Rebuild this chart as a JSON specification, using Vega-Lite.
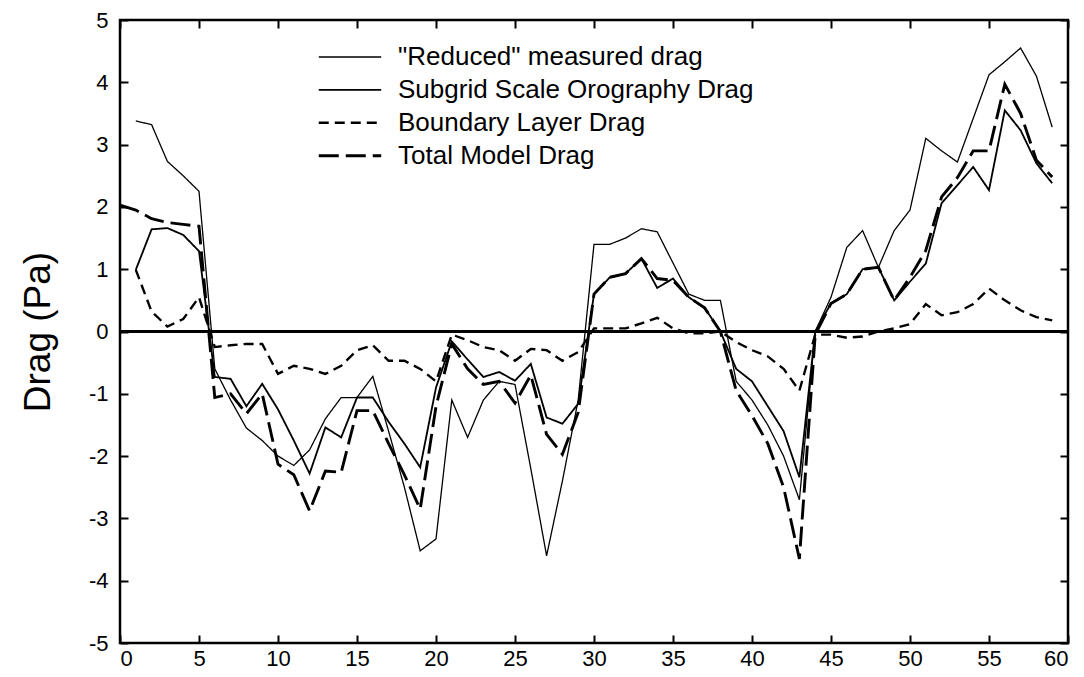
{
"$schema": "https://vega.github.io/schema/vega-lite/v6.json",
"width": 948, "height": 623,
"autosize": {"type": "none"},
"padding": {"left": 120, "top": 20, "right": 16, "bottom": 34},
"background": "white",
"config": {"view": {"stroke": "black", "strokeWidth": 2.5}, "font": "Liberation Sans"},
"datasets": {"d": [
{"s":"R","x":1,"y":3.38},{"s":"R","x":2,"y":3.32},{"s":"R","x":3,"y":2.73},{"s":"R","x":4,"y":2.5},{"s":"R","x":5,"y":2.25},{"s":"R","x":6,"y":-0.6},{"s":"R","x":7,"y":-1.1},{"s":"R","x":8,"y":-1.55},{"s":"R","x":9,"y":-1.75},{"s":"R","x":10,"y":-2.0},{"s":"R","x":11,"y":-2.15},{"s":"R","x":12,"y":-1.9},{"s":"R","x":13,"y":-1.4},{"s":"R","x":14,"y":-1.06},{"s":"R","x":15,"y":-1.06},{"s":"R","x":16,"y":-0.72},{"s":"R","x":17,"y":-1.6},{"s":"R","x":18,"y":-2.5},{"s":"R","x":19,"y":-3.52},{"s":"R","x":20,"y":-3.33},{"s":"R","x":21,"y":-1.1},{"s":"R","x":22,"y":-1.7},{"s":"R","x":23,"y":-1.1},{"s":"R","x":24,"y":-0.8},{"s":"R","x":25,"y":-0.85},{"s":"R","x":26,"y":-2.2},{"s":"R","x":27,"y":-3.6},{"s":"R","x":28,"y":-2.4},{"s":"R","x":29,"y":-1.1},{"s":"R","x":30,"y":1.4},{"s":"R","x":31,"y":1.4},{"s":"R","x":32,"y":1.5},{"s":"R","x":33,"y":1.65},{"s":"R","x":34,"y":1.6},{"s":"R","x":35,"y":1.1},{"s":"R","x":36,"y":0.6},{"s":"R","x":37,"y":0.5},{"s":"R","x":38,"y":0.5},{"s":"R","x":39,"y":-0.8},{"s":"R","x":40,"y":-1.1},{"s":"R","x":41,"y":-1.5},{"s":"R","x":42,"y":-2.0},{"s":"R","x":43,"y":-2.7},{"s":"R","x":44,"y":0.0},{"s":"R","x":45,"y":0.55},{"s":"R","x":46,"y":1.35},{"s":"R","x":47,"y":1.62},{"s":"R","x":48,"y":1.03},{"s":"R","x":49,"y":1.62},{"s":"R","x":50,"y":1.95},{"s":"R","x":51,"y":3.1},{"s":"R","x":52,"y":2.9},{"s":"R","x":53,"y":2.72},{"s":"R","x":54,"y":3.42},{"s":"R","x":55,"y":4.12},{"s":"R","x":56,"y":4.33},{"s":"R","x":57,"y":4.55},{"s":"R","x":58,"y":4.1},{"s":"R","x":59,"y":3.28},
{"s":"S","x":1,"y":0.99},{"s":"S","x":2,"y":1.64},{"s":"S","x":3,"y":1.66},{"s":"S","x":4,"y":1.55},{"s":"S","x":5,"y":1.29},{"s":"S","x":6,"y":-0.73},{"s":"S","x":7,"y":-0.76},{"s":"S","x":8,"y":-1.2},{"s":"S","x":9,"y":-0.84},{"s":"S","x":10,"y":-1.25},{"s":"S","x":11,"y":-1.75},{"s":"S","x":12,"y":-2.28},{"s":"S","x":13,"y":-1.54},{"s":"S","x":14,"y":-1.7},{"s":"S","x":15,"y":-1.06},{"s":"S","x":16,"y":-1.06},{"s":"S","x":17,"y":-1.45},{"s":"S","x":18,"y":-1.8},{"s":"S","x":19,"y":-2.18},{"s":"S","x":20,"y":-0.9},{"s":"S","x":21,"y":-0.16},{"s":"S","x":22,"y":-0.45},{"s":"S","x":23,"y":-0.73},{"s":"S","x":24,"y":-0.65},{"s":"S","x":25,"y":-0.79},{"s":"S","x":26,"y":-0.52},{"s":"S","x":27,"y":-1.38},{"s":"S","x":28,"y":-1.48},{"s":"S","x":29,"y":-1.16},{"s":"S","x":30,"y":0.6},{"s":"S","x":31,"y":0.87},{"s":"S","x":32,"y":0.93},{"s":"S","x":33,"y":1.17},{"s":"S","x":34,"y":0.7},{"s":"S","x":35,"y":0.85},{"s":"S","x":36,"y":0.55},{"s":"S","x":37,"y":0.38},{"s":"S","x":38,"y":0.0},{"s":"S","x":39,"y":-0.6},{"s":"S","x":40,"y":-0.8},{"s":"S","x":41,"y":-1.2},{"s":"S","x":42,"y":-1.6},{"s":"S","x":43,"y":-2.34},{"s":"S","x":44,"y":0.0},{"s":"S","x":45,"y":0.45},{"s":"S","x":46,"y":0.6},{"s":"S","x":47,"y":1.0},{"s":"S","x":48,"y":1.03},{"s":"S","x":49,"y":0.5},{"s":"S","x":50,"y":0.8},{"s":"S","x":51,"y":1.09},{"s":"S","x":52,"y":2.06},{"s":"S","x":53,"y":2.35},{"s":"S","x":54,"y":2.64},{"s":"S","x":55,"y":2.27},{"s":"S","x":56,"y":3.55},{"s":"S","x":57,"y":3.23},{"s":"S","x":58,"y":2.7},{"s":"S","x":59,"y":2.38},
{"s":"B","x":1,"y":0.99},{"s":"B","x":2,"y":0.32},{"s":"B","x":3,"y":0.08},{"s":"B","x":4,"y":0.2},{"s":"B","x":5,"y":0.55},{"s":"B","x":6,"y":-0.25},{"s":"B","x":7,"y":-0.22},{"s":"B","x":8,"y":-0.2},{"s":"B","x":9,"y":-0.2},{"s":"B","x":10,"y":-0.68},{"s":"B","x":11,"y":-0.55},{"s":"B","x":12,"y":-0.6},{"s":"B","x":13,"y":-0.68},{"s":"B","x":14,"y":-0.55},{"s":"B","x":15,"y":-0.3},{"s":"B","x":16,"y":-0.22},{"s":"B","x":17,"y":-0.47},{"s":"B","x":18,"y":-0.47},{"s":"B","x":19,"y":-0.6},{"s":"B","x":20,"y":-0.8},{"s":"B","x":21,"y":-0.05},{"s":"B","x":22,"y":-0.14},{"s":"B","x":23,"y":-0.25},{"s":"B","x":24,"y":-0.3},{"s":"B","x":25,"y":-0.47},{"s":"B","x":26,"y":-0.28},{"s":"B","x":27,"y":-0.3},{"s":"B","x":28,"y":-0.47},{"s":"B","x":29,"y":-0.33},{"s":"B","x":30,"y":0.05},{"s":"B","x":31,"y":0.05},{"s":"B","x":32,"y":0.05},{"s":"B","x":33,"y":0.13},{"s":"B","x":34,"y":0.22},{"s":"B","x":35,"y":0.05},{"s":"B","x":36,"y":-0.03},{"s":"B","x":37,"y":-0.03},{"s":"B","x":38,"y":0.0},{"s":"B","x":39,"y":-0.17},{"s":"B","x":40,"y":-0.3},{"s":"B","x":41,"y":-0.4},{"s":"B","x":42,"y":-0.6},{"s":"B","x":43,"y":-0.95},{"s":"B","x":44,"y":-0.05},{"s":"B","x":45,"y":-0.05},{"s":"B","x":46,"y":-0.1},{"s":"B","x":47,"y":-0.08},{"s":"B","x":48,"y":0.0},{"s":"B","x":49,"y":0.05},{"s":"B","x":50,"y":0.12},{"s":"B","x":51,"y":0.44},{"s":"B","x":52,"y":0.26},{"s":"B","x":53,"y":0.31},{"s":"B","x":54,"y":0.44},{"s":"B","x":55,"y":0.69},{"s":"B","x":56,"y":0.5},{"s":"B","x":57,"y":0.34},{"s":"B","x":58,"y":0.23},{"s":"B","x":59,"y":0.18},
{"s":"T","x":0,"y":2.03},{"s":"T","x":1,"y":1.95},{"s":"T","x":2,"y":1.81},{"s":"T","x":3,"y":1.75},{"s":"T","x":4,"y":1.72},{"s":"T","x":5,"y":1.69},{"s":"T","x":6,"y":-1.06},{"s":"T","x":7,"y":-1.0},{"s":"T","x":8,"y":-1.32},{"s":"T","x":9,"y":-1.0},{"s":"T","x":10,"y":-2.13},{"s":"T","x":11,"y":-2.3},{"s":"T","x":12,"y":-2.88},{"s":"T","x":13,"y":-2.24},{"s":"T","x":14,"y":-2.26},{"s":"T","x":15,"y":-1.27},{"s":"T","x":16,"y":-1.27},{"s":"T","x":17,"y":-1.8},{"s":"T","x":18,"y":-2.3},{"s":"T","x":19,"y":-2.85},{"s":"T","x":20,"y":-1.2},{"s":"T","x":21,"y":-0.2},{"s":"T","x":22,"y":-0.6},{"s":"T","x":23,"y":-0.85},{"s":"T","x":24,"y":-0.8},{"s":"T","x":25,"y":-1.15},{"s":"T","x":26,"y":-0.7},{"s":"T","x":27,"y":-1.65},{"s":"T","x":28,"y":-1.97},{"s":"T","x":29,"y":-1.3},{"s":"T","x":30,"y":0.6},{"s":"T","x":31,"y":0.87},{"s":"T","x":32,"y":0.93},{"s":"T","x":33,"y":1.17},{"s":"T","x":34,"y":0.85},{"s":"T","x":35,"y":0.82},{"s":"T","x":36,"y":0.55},{"s":"T","x":37,"y":0.38},{"s":"T","x":38,"y":0.0},{"s":"T","x":39,"y":-0.95},{"s":"T","x":40,"y":-1.35},{"s":"T","x":41,"y":-1.8},{"s":"T","x":42,"y":-2.5},{"s":"T","x":43,"y":-3.65},{"s":"T","x":44,"y":-0.05},{"s":"T","x":45,"y":0.45},{"s":"T","x":46,"y":0.6},{"s":"T","x":47,"y":1.0},{"s":"T","x":48,"y":1.03},{"s":"T","x":49,"y":0.5},{"s":"T","x":50,"y":0.87},{"s":"T","x":51,"y":1.3},{"s":"T","x":52,"y":2.16},{"s":"T","x":53,"y":2.47},{"s":"T","x":54,"y":2.9},{"s":"T","x":55,"y":2.9},{"s":"T","x":56,"y":3.97},{"s":"T","x":57,"y":3.5},{"s":"T","x":58,"y":2.75},{"s":"T","x":59,"y":2.48}
]},
"data": {"name": "d"},
"layer": [
{"mark": {"type": "rule", "color": "black", "strokeWidth": 2.8},
 "encoding": {"y": {"datum": 0, "type": "quantitative", "scale": {"domain": [-5, 5], "nice": false}, "axis": null}}},
{"transform": [{"filter": "datum.s == 'R'"}],
 "mark": {"type": "line", "color": "black"},
 "encoding": {
  "x": {"field": "x", "type": "quantitative", "scale": {"domain": [0, 60], "nice": false},
        "axis": {"orient": "bottom", "offset": -8, "values": [0,5,10,15,20,25,30,35,40,45,50,55,60], "title": null, "grid": false, "domain": false,
                 "tickSize": 8, "tickWidth": 2, "tickColor": "black", "labelFontSize": 22, "labelColor": "black", "labelPadding": 5, "labelFont": "Liberation Sans"}},
  "y": {"field": "y", "type": "quantitative", "scale": {"domain": [-5, 5], "nice": false},
        "axis": {"orient": "left", "offset": -8, "values": [-5,-4,-3,-2,-1,0,1,2,3,4,5], "labelExpr": "'' + datum.value", "grid": false, "domain": false,
                 "tickSize": 8, "tickWidth": 2, "tickColor": "black", "labelFontSize": 22, "labelColor": "black", "labelPadding": 12, "labelFont": "Liberation Sans",
                 "title": "Drag (Pa)", "titleFontSize": 37, "titleFontWeight": "normal", "titleColor": "black", "titleFont": "Liberation Sans", "titlePadding": 31}},
  "strokeDash": {"field": "s", "type": "ordinal", "scale": {"domain": ["R","S","B","T"], "range": [[1,0],[1,0],[10,6],[20,7]]},
    "legend": {"orient": "none", "legendX": 197, "legendY": 25, "title": null, "symbolType": "stroke", "symbolSize": 3900, "symbolStrokeColor": "black",
               "labelFontSize": 26, "labelColor": "black", "labelFont": "Liberation Sans", "labelOffset": 15, "rowPadding": 6.9, "clipHeight": 24, "labelLimit": 600,
               "labelExpr": "datum.label == 'R' ? '\"Reduced\" measured drag' : datum.label == 'S' ? 'Subgrid Scale Orography Drag' : datum.label == 'B' ? 'Boundary Layer Drag' : 'Total Model Drag'"}},
  "strokeWidth": {"field": "s", "type": "ordinal", "scale": {"domain": ["R","S","B","T"], "range": [1.3, 2.9, 2.4, 2.9]},
    "legend": {"orient": "none", "legendX": 197, "legendY": 25, "title": null, "symbolType": "stroke", "symbolSize": 3900, "symbolStrokeColor": "black",
               "labelFontSize": 26, "labelColor": "black", "labelFont": "Liberation Sans", "labelOffset": 15, "rowPadding": 6.9, "clipHeight": 24, "labelLimit": 600,
               "labelExpr": "datum.label == 'R' ? '\"Reduced\" measured drag' : datum.label == 'S' ? 'Subgrid Scale Orography Drag' : datum.label == 'B' ? 'Boundary Layer Drag' : 'Total Model Drag'"}}
 }},
{"transform": [{"filter": "datum.s != 'R'"}],
 "mark": {"type": "line", "color": "black"},
 "encoding": {
  "x": {"field": "x", "type": "quantitative", "axis": {"orient": "top", "offset": -8, "values": [0,5,10,15,20,25,30,35,40,45,50,55,60], "labels": false, "title": null, "grid": false, "domain": false, "tickSize": 8, "tickWidth": 2, "tickColor": "black"}},
  "y": {"field": "y", "type": "quantitative", "axis": {"orient": "right", "offset": -8, "values": [-5,-4,-3,-2,-1,0,1,2,3,4,5], "labels": false, "title": null, "grid": false, "domain": false, "tickSize": 8, "tickWidth": 2, "tickColor": "black"}},
  "strokeDash": {"field": "s", "type": "ordinal"},
  "strokeWidth": {"field": "s", "type": "ordinal"}
 }}
],
"resolve": {"axis": {"x": "independent", "y": "independent"}}
}
